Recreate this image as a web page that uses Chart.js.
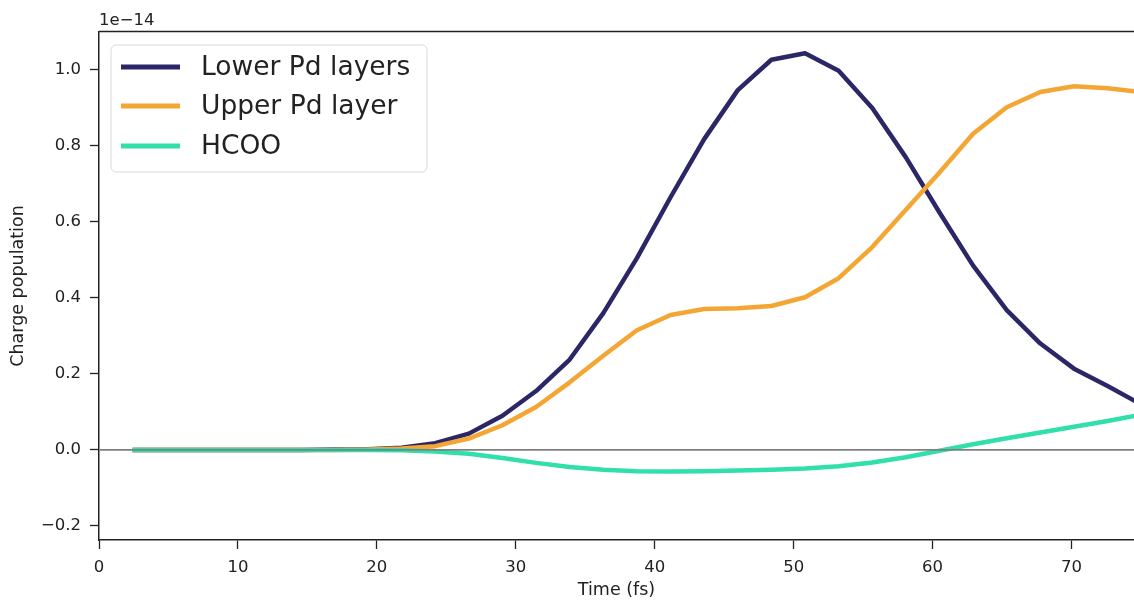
<!DOCTYPE html>
<html>
<head>
<meta charset="utf-8">
<script src="https://cdn.jsdelivr.net/npm/chart.js@4.4.1/dist/chart.umd.min.js"></script>
<style>
  html, body { margin: 0; padding: 0; background: #fff; }
  #wrap { width: 1134px; height: 602px; position: relative; }
</style>
</head>
<body>
<div id="wrap"><canvas id="chargeChart"></canvas></div>
<script>
// time axis in fs, values in units of 1e-14
const time = [2.42, 4.84, 7.26, 9.68, 12.10, 14.52, 16.94, 19.36, 21.78, 24.20,
    26.62, 29.04, 31.46, 33.88, 36.30, 38.72, 41.14, 43.56, 45.98, 48.40,
    50.82, 53.24, 55.66, 58.08, 60.50, 62.92, 65.34, 67.76, 70.18, 72.60, 75.02];
const lowerPd = [0, 0, 0, 0, 0, 0, 0.001, 0.002, 0.006, 0.018,
    0.043, 0.09, 0.155, 0.238, 0.36, 0.505, 0.665, 0.818, 0.947, 1.027,
    1.044, 0.998, 0.9, 0.77, 0.625, 0.485, 0.368, 0.28, 0.214, 0.168, 0.12];
const upperPd = [0, 0, 0, 0, 0, 0, 0, 0.001, 0.004, 0.01,
    0.03, 0.065, 0.113, 0.178, 0.248, 0.315, 0.355, 0.371, 0.373, 0.379,
    0.402, 0.452, 0.534, 0.632, 0.73, 0.832, 0.902, 0.942, 0.957, 0.952, 0.942];
const hcoo = [0, 0, 0, 0, 0, 0, 0, 0, -0.001, -0.004,
    -0.01, -0.021, -0.034, -0.045, -0.052, -0.056, -0.057, -0.056, -0.054, -0.052,
    -0.049, -0.043, -0.033, -0.019, -0.002, 0.015, 0.031, 0.046, 0.061, 0.076, 0.093];
const xTicks = [0, 10, 20, 30, 40, 50, 60, 70];
const yTicks = [-0.2, 0.0, 0.2, 0.4, 0.6, 0.8, 1.0];

const FONT = 'DejaVu Sans';
const INK = '#222222';

function pts(ys) {
    return time.map((t, i) => ({ x: t, y: ys[i] }));
}

// zero line, top spine, offset text and the legend box inside the axes
const extras = {
    id: 'extras',
    afterDatasetsDraw(chart) {
        const { ctx, chartArea: a, scales } = chart;
        const y0 = scales.y.getPixelForValue(0);
        ctx.save();
        ctx.strokeStyle = '#808080';
        ctx.lineWidth = 1.8;
        ctx.beginPath();
        ctx.moveTo(a.left, y0);
        ctx.lineTo(a.right, y0);
        ctx.stroke();
        ctx.restore();
    },
    afterDraw(chart) {
        const { ctx, chartArea: a } = chart;
        ctx.save();
        ctx.strokeStyle = INK;
        ctx.lineWidth = 1.5;
        ctx.beginPath();
        ctx.moveTo(a.left, a.top - 0.5);
        ctx.lineTo(a.right, a.top - 0.5);
        ctx.stroke();

        ctx.fillStyle = INK;
        ctx.font = '16.5px "' + FONT + '"';
        ctx.textBaseline = 'alphabetic';
        ctx.textAlign = 'left';
        ctx.fillText('1e\u221214', a.left, 25);

        // legend
        const bx = 111, by = 45, bw = 316, bh = 127, r = 5;
        ctx.fillStyle = 'rgba(255,255,255,0.85)';
        ctx.strokeStyle = '#d9d9d9';
        ctx.lineWidth = 1;
        ctx.beginPath();
        ctx.roundRect(bx, by, bw, bh, r);
        ctx.fill();
        ctx.stroke();
        const rows = [67, 106, 146];
        ctx.font = '26.5px "' + FONT + '"';
        ctx.textBaseline = 'middle';
        chart.data.datasets.forEach((ds, i) => {
            const yy = rows[i];
            ctx.strokeStyle = ds.borderColor;
            ctx.lineWidth = 5;
            ctx.beginPath();
            ctx.moveTo(121, yy);
            ctx.lineTo(180, yy);
            ctx.stroke();
            ctx.fillStyle = INK;
            ctx.fillText(ds.label, 201, yy + 1);
        });
        ctx.restore();
    }
};

new Chart(document.getElementById('chargeChart'), {
    type: 'line',
    data: {
        datasets: [
            { label: 'Lower Pd layers', data: pts(lowerPd), borderColor: '#2b2766', order: 3 },
            { label: 'Upper Pd layer', data: pts(upperPd), borderColor: '#f4a634', order: 2 },
            { label: 'HCOO', data: pts(hcoo), borderColor: '#30dfa9', order: 1 }
        ]
    },
    options: {
        responsive: true,
        maintainAspectRatio: false,
        animation: false,
        layout: { padding: { top: 32, right: 0, left: 0, bottom: 0 } },
        elements: {
            line: { borderWidth: 4.5, tension: 0, borderCapStyle: 'butt', borderJoinStyle: 'round' },
            point: { radius: 0 }
        },
        plugins: {
            legend: { display: false },
            tooltip: { enabled: false }
        },
        scales: {
            x: {
                type: 'linear',
                min: 0,
                max: 74.5,
                afterFit(scale) { scale.height = 62; },
                afterBuildTicks(scale) { scale.ticks = xTicks.map(v => ({ value: v })); },
                grid: { drawOnChartArea: false, drawTicks: true, tickLength: 9, tickColor: INK, tickWidth: 1.3 },
                border: { display: true, color: INK, width: 1.5 },
                ticks: {
                    color: INK, padding: 9, maxRotation: 0,
                    font: { family: FONT, size: 16.5 },
                    callback: v => String(v)
                },
                title: {
                    display: true, text: 'Time (fs)', color: INK,
                    font: { family: FONT, size: 17.5 },
                    padding: { top: 0, bottom: 1.5 }
                }
            },
            y: {
                type: 'linear',
                min: -0.237,
                max: 1.1,
                afterFit(scale) { scale.width = 99; },
                afterBuildTicks(scale) { scale.ticks = yTicks.map(v => ({ value: v })); },
                grid: { drawOnChartArea: false, drawTicks: true, tickLength: 9, tickColor: INK, tickWidth: 1.3 },
                border: { display: true, color: INK, width: 1.5 },
                ticks: {
                    color: INK, padding: 9,
                    font: { family: FONT, size: 16.5 },
                    callback: v => v.toFixed(1).replace('-', '\u2212')
                },
                title: {
                    display: true, text: 'Charge population', color: INK,
                    font: { family: FONT, size: 17.5 },
                    padding: { top: 7.5, bottom: 0 }
                }
            }
        }
    },
    plugins: [extras]
});
</script>
</body>
</html>
